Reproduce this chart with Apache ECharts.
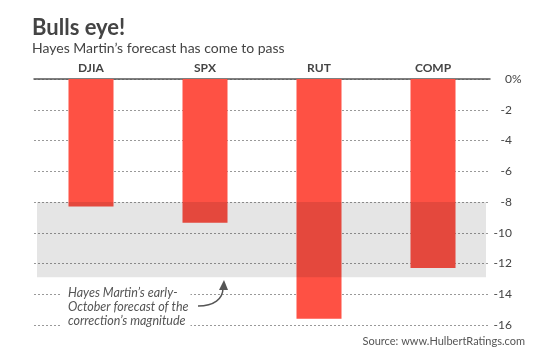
<!DOCTYPE html>
<html>
<head>
<meta charset="utf-8">
<script src="https://cdn.jsdelivr.net/npm/echarts@6/dist/echarts.min.js"></script>
<style>
  html, body { margin: 0; padding: 0; background: #fff; }
  #chart { width: 534px; height: 352px; }
</style>
</head>
<body>
<div id="chart"></div>
<script>
// index declines since the peak, in percent
const indexes = ['DJIA', 'SPX', 'RUT', 'COMP']
const declines = [-8.3, -9.35, -15.6, -12.3]
// Hayes Martin's forecast range
const forecastRange = [-8, -12.9]
const yTicks = [0, -2, -4, -6, -8, -10, -12, -14, -16]

const chart = echarts.init(document.getElementById('chart'))
const font = 'Lato, "Open Sans", sans-serif'

chart.setOption({
  animation: false,
  textStyle: { fontFamily: font },
  grid: { left: 34, right: 44, top: 79, bottom: 27 },
  xAxis: {
    type: 'category',
    position: 'top',
    data: indexes,
    axisLine: { lineStyle: { color: '#555', width: 1.5 } },
    axisTick: { show: false },
    axisLabel: { color: '#444', fontSize: 12, fontWeight: 'bold', margin: 5, fontFamily: font },
  },
  yAxis: {
    type: 'value',
    position: 'right',
    min: -16,
    max: 0,
    interval: 2,
    axisLine: { show: false },
    axisTick: { show: false },
    splitLine: { lineStyle: { color: '#999', type: [2, 2], width: 1 } },
    axisLabel: {
      color: '#444',
      align: 'left',
      margin: 6,
      formatter: (v) => (v === yTicks[0] ? '{z|0%}' : '{v|' + v + '}'),
      rich: {
        v: { color: '#444', fontSize: 12, fontFamily: font, width: 16, align: 'right' },
        z: { color: '#444', fontSize: 12, fontFamily: font, padding: [0, 0, 0, 9] },
      },
    },
  },
  series: [
    {
      type: 'bar',
      data: declines,
      barWidth: 45,
      itemStyle: { color: '#fe5144' },
      z: 2,
    },
    {
      // shaded forecast band, drawn over the bars so they darken inside it
      type: 'custom',
      z: 5,
      silent: true,
      data: [forecastRange],
      renderItem: (params, api) => {
        const cs = params.coordSys
        const top = api.coord([0, api.value(0)])[1]
        const bottom = api.coord([0, api.value(1)])[1]
        return {
          type: 'rect',
          shape: { x: cs.x + 3, y: top, width: cs.width - 7, height: bottom - top },
          style: { fill: 'rgba(0,0,0,0.1)' },
        }
      },
    },
  ],
  graphic: [
    {
      type: 'text', left: 32, top: 17,
      style: { text: 'Bulls eye!', fill: '#444', font: 'bold 22px ' + font },
    },
    {
      type: 'text', left: 32, top: 41,
      style: { text: 'Hayes Martin\u2019s forecast has come to pass', fill: '#444', font: '14px ' + font },
    },
    {
      type: 'text', right: 9, top: 336,
      style: { text: 'Source: www.HulbertRatings.com', fill: '#555', font: '11px ' + font },
    },
    {
      type: 'text', left: 62, top: 286, z: 10,
      style: {
        text: 'Hayes Martin\u2019s early-\nOctober forecast of the\ncorrection\u2019s magnitude',
        fill: '#555',
        font: 'italic 12.5px ' + font,
        lineHeight: 14,
        backgroundColor: '#fff',
        padding: [0, 2, 0, 6],
      },
    },
    {
      type: 'bezierCurve', z: 10,
      shape: { x1: 198, y1: 306, cpx1: 214, cpy1: 306, cpx2: 223, cpy2: 299, x2: 223, y2: 288 },
      style: { stroke: '#555', lineWidth: 1.5, fill: null },
    },
    {
      type: 'polygon', z: 10,
      shape: { points: [[224, 280], [219, 290], [228, 290]] },
      style: { fill: '#555' },
    },
  ],
})
</script>
</body>
</html>
